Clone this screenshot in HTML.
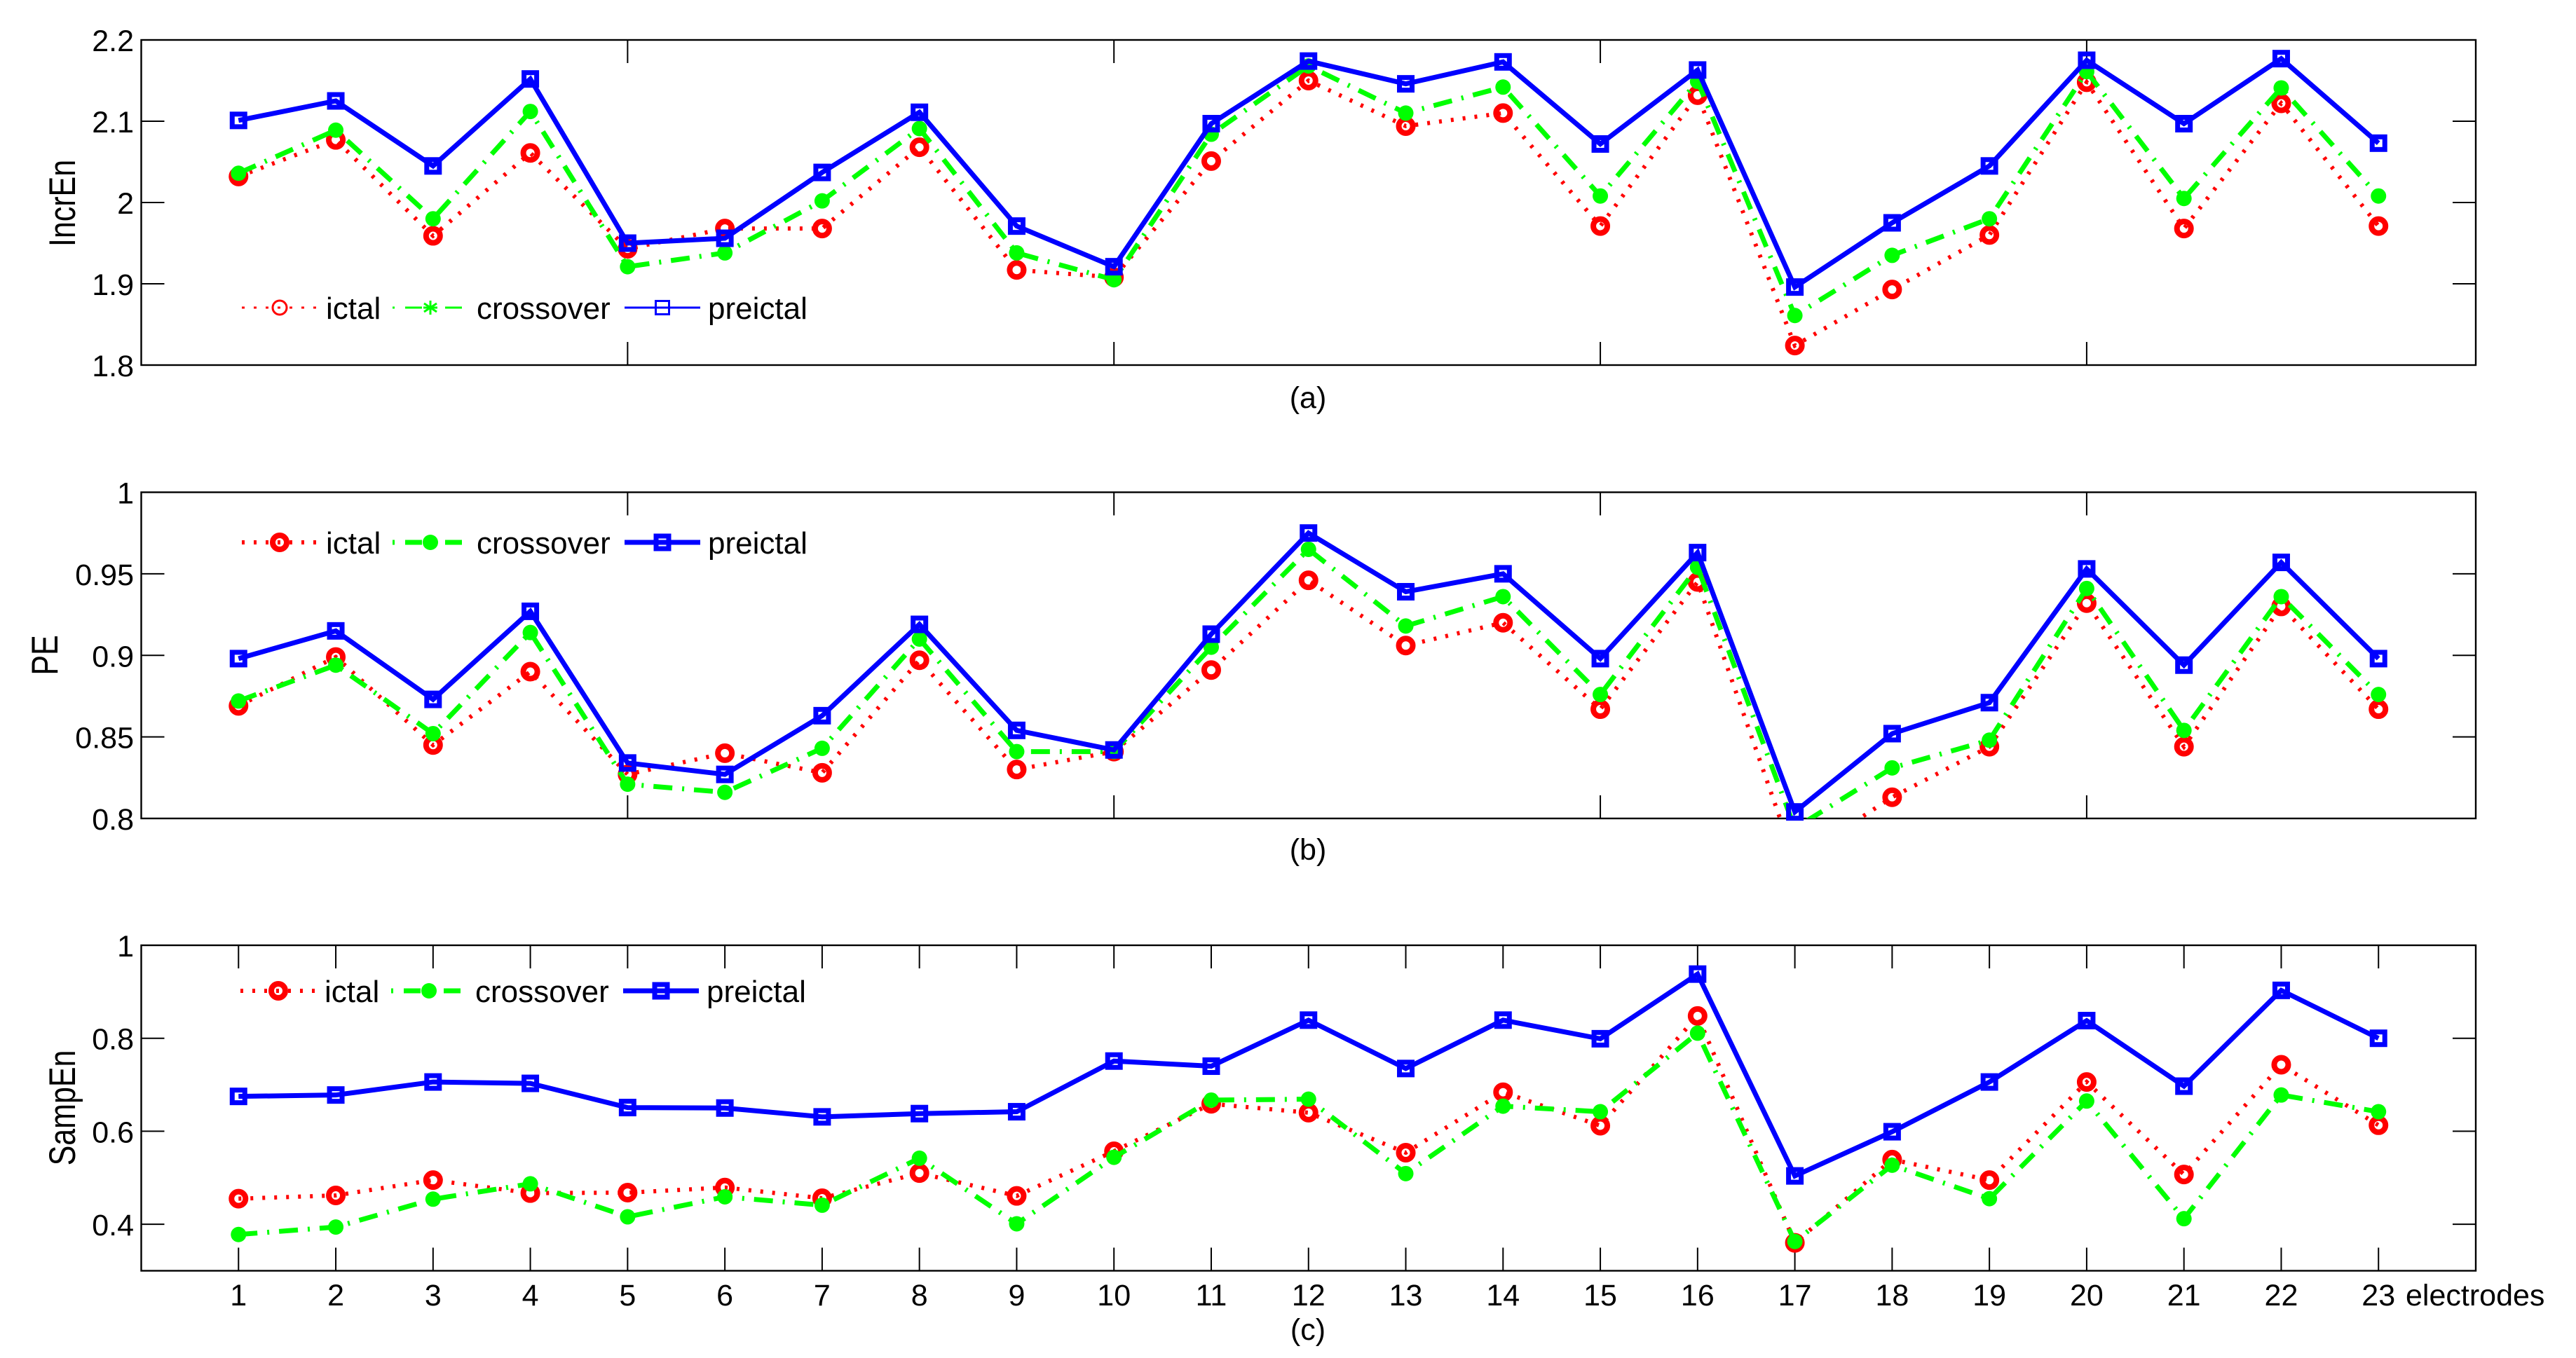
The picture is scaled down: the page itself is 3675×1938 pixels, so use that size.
<!DOCTYPE html>
<html lang="en">
<head>
<meta charset="utf-8">
<title>IncrEn, PE and SampEn per electrode</title>
<style>
html,body{margin:0;padding:0;background:#fff;}
svg{display:block;}
text{font-family:"Liberation Sans",Arial,sans-serif;font-size:43px;fill:#000;}
.leg text{font-size:44px;}
</style>
</head>
<body>
<svg id="figure" xmlns="http://www.w3.org/2000/svg" width="3675" height="1938" viewBox="0 0 3675 1938">
  <rect width="3675" height="1938" fill="#fff"/>
  <defs>
    <clipPath id="clip-a"><rect x="201" y="57" width="3331" height="464"/></clipPath>
    <clipPath id="clip-b"><rect x="201" y="702" width="3331" height="466"/></clipPath>
    <clipPath id="clip-c"><rect x="201" y="1349" width="3331" height="465"/></clipPath>
  </defs>
  <g id="panel-a"></g>
  <g id="panel-b"></g>
  <g id="panel-c"></g>

  <text text-anchor="middle" transform="translate(107,290) rotate(-90) scale(1,1.22)">IncrEn</text>
  <text text-anchor="middle" transform="translate(82,935) rotate(-90) scale(1,1.22)">PE</text>
  <text text-anchor="middle" transform="translate(107,1581) rotate(-90) scale(1,1.22)">SampEn</text>

  <text x="1866" y="582" text-anchor="middle">(a)</text>
  <text x="1866" y="1227" text-anchor="middle">(b)</text>
  <text x="1866" y="1912" text-anchor="middle">(c)</text>
  <text x="3432" y="1863">electrodes</text>

  <g class="leg">
    <text x="465" y="455">ictal</text>
    <text x="680" y="455">crossover</text>
    <text x="1010" y="455">preictal</text>
  </g>
  <g class="leg">
    <text x="465" y="790">ictal</text>
    <text x="680" y="790">crossover</text>
    <text x="1010" y="790">preictal</text>
  </g>
  <g class="leg">
    <text x="463" y="1430">ictal</text>
    <text x="678" y="1430">crossover</text>
    <text x="1008" y="1430">preictal</text>
  </g>
</svg>
<script>
var electrodes = [1,2,3,4,5,6,7,8,9,10,11,12,13,14,15,16,17,18,19,20,21,22,23];

var incrEnIctal = [2.032,2.077,1.959,2.061,1.943,1.968,1.968,2.068,1.917,1.908,2.051,2.150,2.094,2.110,1.971,2.132,1.824,1.893,1.960,2.148,1.968,2.122,1.971];
var incrEnCrossover = [2.036,2.089,1.980,2.112,1.921,1.938,2.002,2.091,1.938,1.905,2.084,2.168,2.110,2.142,2.008,2.149,1.861,1.935,1.980,2.161,2.005,2.141,2.008];
var incrEnPreictal = [2.101,2.125,2.045,2.152,1.950,1.956,2.037,2.111,1.971,1.921,2.097,2.174,2.146,2.173,2.072,2.163,1.896,1.975,2.045,2.175,2.097,2.177,2.073];

var peIctal = [0.869,0.899,0.845,0.890,0.827,0.840,0.828,0.897,0.830,0.841,0.891,0.946,0.906,0.920,0.867,0.945,0.774,0.813,0.844,0.932,0.844,0.930,0.867];
var peCrossover = [0.872,0.894,0.852,0.914,0.821,0.816,0.843,0.910,0.841,0.841,0.905,0.965,0.918,0.936,0.876,0.954,0.794,0.831,0.848,0.941,0.854,0.936,0.876];
var pePreictal = [0.898,0.915,0.873,0.927,0.834,0.827,0.863,0.919,0.854,0.842,0.913,0.975,0.939,0.950,0.898,0.963,0.804,0.852,0.871,0.953,0.894,0.957,0.898];

var sampEnIctal = [0.455,0.462,0.495,0.467,0.468,0.479,0.456,0.510,0.461,0.557,0.659,0.640,0.554,0.684,0.612,0.848,0.360,0.539,0.495,0.706,0.507,0.743,0.613];
var sampEnCrossover = [0.378,0.394,0.454,0.487,0.416,0.459,0.441,0.542,0.401,0.544,0.667,0.669,0.509,0.654,0.642,0.811,0.363,0.527,0.455,0.665,0.412,0.678,0.642];
var sampEnPreictal = [0.675,0.678,0.706,0.703,0.651,0.650,0.631,0.638,0.642,0.751,0.740,0.839,0.735,0.839,0.799,0.938,0.504,0.599,0.706,0.838,0.697,0.903,0.800];

var incrEnTicks = [1.8,1.9,2,2.1,2.2];
var incrEnTickLabels = ['1.8','1.9','2','2.1','2.2'];
var peTicks = [0.8,0.85,0.9,0.95,1];
var peTickLabels = ['0.8','0.85','0.9','0.95','1'];
var sampEnTicks = [0.4,0.6,0.8,1];
var sampEnTickLabels = ['0.4','0.6','0.8','1'];
var sparseXTicks = [5,10,15,20];

var NS = 'http://www.w3.org/2000/svg';
var svg = document.getElementById('figure');

function make(parent, tag, attrs) {
  var e = document.createElementNS(NS, tag);
  for (var k in attrs) { e.setAttribute(k, attrs[k]); }
  parent.appendChild(e);
  return e;
}

var AX_LEFT = 201.5, AX_RIGHT = 3532, X_MIN = 0, X_MAX = 24, TICK = 33;
function xScale(v) {
  return AX_LEFT + (v - X_MIN) / (X_MAX - X_MIN) * (AX_RIGHT - AX_LEFT);
}
function yScaleFor(top, bottom, yMin, yMax) {
  return function (v) { return bottom - (v - yMin) / (yMax - yMin) * (bottom - top); };
}

var RED = '#ff0000', GREEN = '#00ff00', BLUE = '#0000ff';
var RED_DASH = '4 13', GREEN_DASH = '27 14 3 14';

function drawMarker(parent, kind, cx, cy, sw) {
  var m;
  if (kind === 'circle') {
    m = make(parent, 'ellipse', {cx: cx, cy: cy, rx: 10, ry: 10, fill: 'none', stroke: RED, 'stroke-width': sw});
    
    
  } else if (kind === 'dot') {
    m = make(parent, 'circle', {cx: cx, cy: cy, r: 11, fill: GREEN});
    
    
  } else if (kind === 'star') {
    m = make(parent, 'path', {d: 'M' + cx + ' ' + (cy - 10) + 'V' + (cy + 10) + 'M' + (cx - 9) + ' ' + (cy - 6) + 'L' + (cx + 9) + ' ' + (cy + 6) + 'M' + (cx - 9) + ' ' + (cy + 6) + 'L' + (cx + 9) + ' ' + (cy - 6) + 'M' + (cx - 10) + ' ' + cy + 'H' + (cx + 10), fill: 'none', stroke: GREEN, 'stroke-width': sw});
    
    
  } else {
    var s = sw > 4 ? 18 : 19;
    m = make(parent, 'rect', {x: cx - s / 2, y: cy - s / 2, width: s, height: s, fill: 'none', stroke: BLUE, 'stroke-width': sw});
    
    
  }
  return m;
}

function drawSeries(parent, clipId, seriesName, values, yScale, top, bottom, color, lw, dash, kind, msw) {
  var g = make(parent, 'g', {});
  
  
  var pts = [];
  for (var i = 0; i < electrodes.length; i++) {
    pts.push(xScale(electrodes[i]).toFixed(2) + ',' + yScale(values[i]).toFixed(2));
  }
  var attrs = {points: pts.join(' '), fill: 'none', stroke: color, 'stroke-width': lw, 'stroke-linejoin': 'miter', 'clip-path': 'url(#' + clipId + ')'};
  if (dash) { attrs['stroke-dasharray'] = dash; }
  var line = make(g, 'polyline', attrs);
  
  
  for (var j = 0; j < electrodes.length; j++) {
    var py = yScale(values[j]);
    if (py >= top && py <= bottom) {
      drawMarker(g, kind, xScale(electrodes[j]), py, msw);
    }
  }
}

function drawAxes(g, top, bottom, yScale, yTicks, yLabels, xTicks, xLabels) {
  var frame = make(g, 'rect', {x: AX_LEFT, y: top, width: AX_RIGHT - AX_LEFT, height: bottom - top, fill: 'none', stroke: '#000', 'stroke-width': 2.4});
  
  
  yTicks.forEach(function (v, i) {
    var y = yScale(v);
    if (y > top + 1 && y < bottom - 1) {
      var l = make(g, 'path', {d: 'M' + AX_LEFT + ' ' + y + 'h' + TICK + 'M' + AX_RIGHT + ' ' + y + 'h' + (-TICK), stroke: '#000', 'stroke-width': 2, fill: 'none'});
      
      
    }
    var t = make(g, 'text', {x: 191, y: y + 16, 'text-anchor': 'end'});
    t.textContent = yLabels[i];
    
    
  });
  xTicks.forEach(function (v) {
    var x = xScale(v);
    var l = make(g, 'path', {d: 'M' + x + ' ' + top + 'v' + TICK + 'M' + x + ' ' + bottom + 'v' + (-TICK), stroke: '#000', 'stroke-width': 2, fill: 'none'});
    
    
    if (xLabels) {
      var t = make(g, 'text', {x: x, y: 1863, 'text-anchor': 'middle'});
      t.textContent = String(v);
      
      
    }
  });
}

function drawLegendSwatches(g, cy, dx, thin) {
  var lwR = thin ? 3 : 6, lwG = thin ? 3 : 7, lwB = thin ? 3 : 7, msw = thin ? 3 : 8;
  var a = make(g, 'line', {x1: 345 + dx, x2: 453 + dx, y1: cy, y2: cy, stroke: RED, 'stroke-width': lwR, 'stroke-dasharray': RED_DASH});
  
  
  drawMarker(g, 'circle', 399 + dx, cy, msw);
  var b = make(g, 'line', {x1: 560 + dx, x2: 668 + dx, y1: cy, y2: cy, stroke: GREEN, 'stroke-width': lwG, 'stroke-dasharray': '3 15 24 15 3 15 24 15 3'});
  
  
  drawMarker(g, thin ? 'star' : 'dot', 614 + dx, cy, msw);
  var c = make(g, 'line', {x1: 891 + dx, x2: 999 + dx, y1: cy, y2: cy, stroke: BLUE, 'stroke-width': lwB});
  
  
  drawMarker(g, 'square', 945 + dx, cy, thin ? 3 : 7);
}

function drawPanel(id, clipId, top, bottom, yMin, yMax, yTicks, yLabels, xTicks, xLabels, ictal, crossover, preictal, legendY, legendDx, thinLegend) {
  var g = document.getElementById(id);
  var yScale = yScaleFor(top, bottom, yMin, yMax);
  drawAxes(g, top, bottom, yScale, yTicks, yLabels, xTicks, xLabels);
  drawSeries(g, clipId, 'ictal', ictal, yScale, top, bottom, RED, 6, RED_DASH, 'circle', 8);
  drawSeries(g, clipId, 'crossover', crossover, yScale, top, bottom, GREEN, 7, GREEN_DASH, 'dot', 0);
  drawSeries(g, clipId, 'preictal', preictal, yScale, top, bottom, BLUE, 7, null, 'square', 7);
  drawLegendSwatches(g, legendY, legendDx, thinLegend);
}

drawPanel('panel-a', 'clip-a', 57, 521, 1.8, 2.2, incrEnTicks, incrEnTickLabels, sparseXTicks, false, incrEnIctal, incrEnCrossover, incrEnPreictal, 439, 0, true);
drawPanel('panel-b', 'clip-b', 702.5, 1168, 0.8, 1, peTicks, peTickLabels, sparseXTicks, false, peIctal, peCrossover, pePreictal, 774, 0, false);
drawPanel('panel-c', 'clip-c', 1349, 1813.5, 0.3, 1, sampEnTicks, sampEnTickLabels, electrodes, true, sampEnIctal, sampEnCrossover, sampEnPreictal, 1414, -2, false);
</script>
</body>
</html>
